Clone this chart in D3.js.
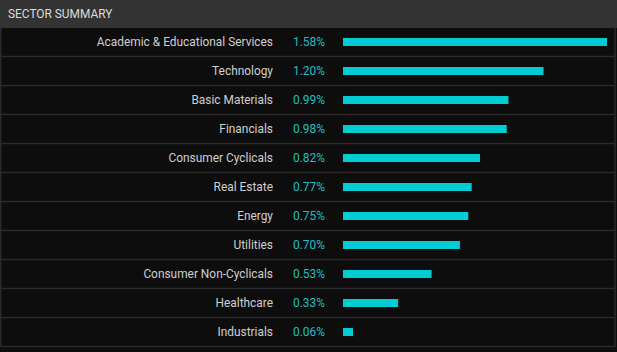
<!DOCTYPE html>
<html><head><meta charset="utf-8">
<script src="https://cdn.jsdelivr.net/npm/d3@7"></script>
<style>html,body{margin:0;padding:0;background:#0d0d0d;overflow:hidden}</style>
</head><body>
<svg id="c" width="617" height="352"></svg>
<script>
const title = "SECTOR SUMMARY";
const sectors = ["Academic & Educational Services","Technology","Basic Materials","Financials","Consumer Cyclicals","Real Estate","Energy","Utilities","Consumer Non-Cyclicals","Healthcare","Industrials"];
const values = [1.58,1.20,0.99,0.98,0.82,0.77,0.75,0.70,0.53,0.33,0.06];

const svg = d3.select("#c");
const W = 617, H = 352, headerH = 28, rowH = 29;
svg.append("rect").attr("width",W).attr("height",H).attr("fill","#0d0d0d");
svg.append("rect").attr("width",W).attr("height",headerH).attr("fill","#333333");
svg.append("text").attr("x",8).attr("y",headerH/2).attr("dy","0.35em")
  .attr("fill","#dcdcdc").attr("font-family","Roboto, sans-serif").attr("font-size",11.9)
  .text(title);

const y = d3.scaleBand().domain(sectors).range([headerH, headerH + rowH*sectors.length]);
const x = d3.scaleLinear().domain([0, 1.58]).range([343, 607]);

const g = svg.append("g");
const rows = g.selectAll("g.row").data(sectors.map((s,i)=>({s,v:values[i]}))).join("g")
  .attr("transform", d=>`translate(0,${y(d.s)})`);
rows.append("line").attr("x1",1).attr("x2",615).attr("y1",rowH-0.5).attr("y2",rowH-0.5)
  .attr("stroke","#2a2a2a").attr("stroke-width",1.5);
rows.append("text").attr("x",273).attr("y",rowH/2-0.5).attr("dy","0.35em").attr("text-anchor","end")
  .attr("fill","#cfcfcf").attr("font-family","Roboto, sans-serif").attr("font-size",11.9)
  .text(d=>d.s);
rows.append("text").attr("x",293).attr("y",rowH/2-0.5).attr("dy","0.35em")
  .attr("fill","#1fbfc4").attr("font-family","Roboto, sans-serif").attr("font-size",11.9)
  .text(d=>d.v.toFixed(2)+"%");
rows.append("rect").attr("x",x(0)).attr("y",rowH/2-4.5).attr("height",8)
  .attr("width",d=>x(d.v)-x(0)).attr("fill","#00ccd3");
// borders
svg.append("line").attr("x1",0.75).attr("x2",0.75).attr("y1",headerH).attr("y2",headerH+rowH*11)
  .attr("stroke","#2a2a2a").attr("stroke-width",1.5);
svg.append("line").attr("x1",615).attr("x2",615).attr("y1",headerH).attr("y2",headerH+rowH*11)
  .attr("stroke","#2a2a2a").attr("stroke-width",1.5);
</script>
</body></html>
